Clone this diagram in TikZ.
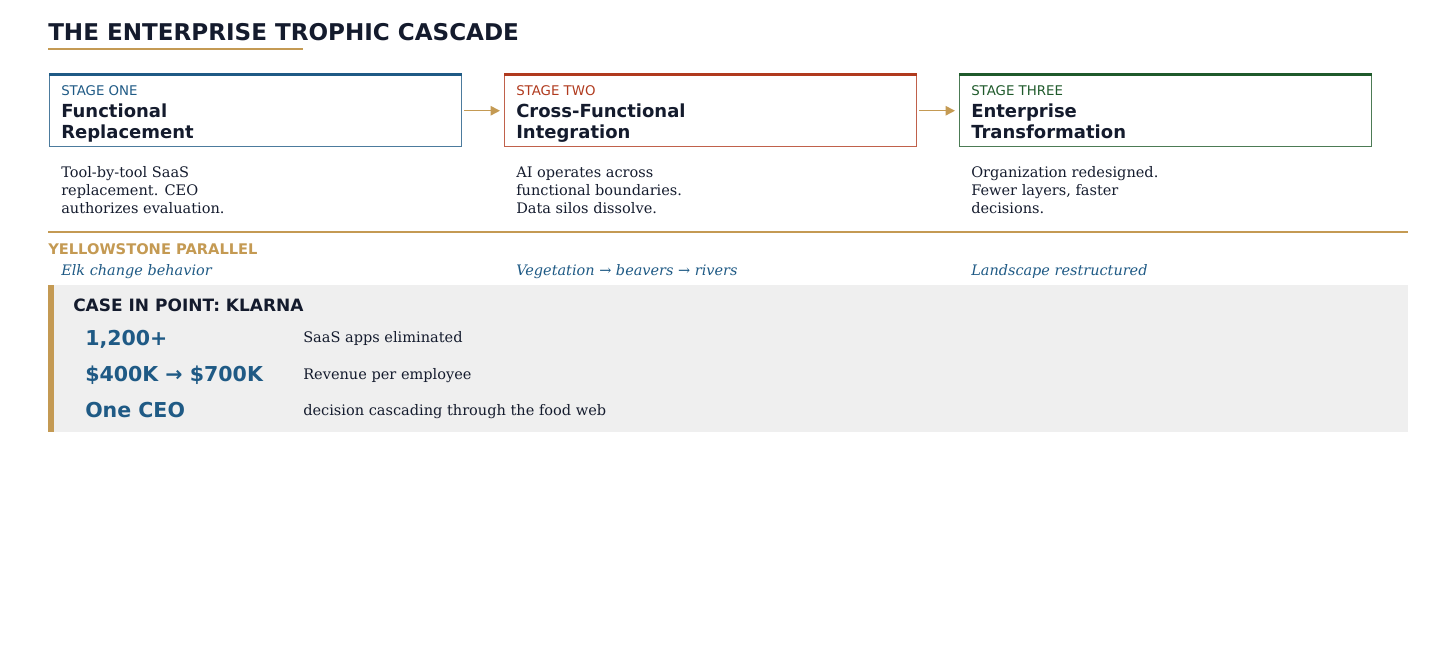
\documentclass[tikz,border=0pt]{standalone}
\usepackage{fontspec}
\setmainfont{DejaVu Serif}
\setsansfont{DejaVu Sans}
\usetikzlibrary{arrows.meta,positioning}
\definecolor{ink}{HTML}{141B2D}
\definecolor{gold}{HTML}{C49A53}
\definecolor{oneblue}{HTML}{1F5A85}
\definecolor{twored}{HTML}{B03A1E}
\definecolor{threegreen}{HTML}{1F5A2B}
\definecolor{panel}{HTML}{EFEFEF}
\tikzset{
  stagebox/.style={draw=#1, draw opacity=0.8, line width=1.1pt, anchor=north west, inner sep=0pt,
    minimum width=309pt, minimum height=54pt},
  stagelabel/.style={anchor=base west, inner sep=0pt, text=#1,
    font=\sffamily\fontsize{10}{12}\selectfont},
  stagetitle/.style={anchor=base west, inner sep=0pt, text=ink,
    font=\sffamily\bfseries\fontsize{13.5}{16}\selectfont},
  desc/.style={anchor=north west, inner sep=0pt, align=left, text=ink,
    font=\fontsize{10.9}{13.5}\selectfont},
  parallel/.style={anchor=base west, inner sep=0pt, text=oneblue,
    font=\itshape\fontsize{10.85}{13}\selectfont},
  bignum/.style={anchor=base west, inner sep=0pt, text=oneblue,
    font=\sffamily\bfseries\fontsize{15.4}{19}\selectfont},
  rowtext/.style={anchor=base west, inner sep=0pt, text=ink,
    font=\fontsize{10.9}{13}\selectfont},
  flow/.style={draw=gold, line width=1.1pt, -{Triangle[length=7pt,width=7pt]}}
}
\begin{document}
\begin{tikzpicture}[x=0.75pt,y=-0.75pt]
\useasboundingbox (0,0) rectangle (1456,668);

% title
\node[anchor=base west, inner sep=0pt, text=ink, font=\sffamily\bfseries\fontsize{17.3}{21}\selectfont]
  (title) at (48,40) {THE ENTERPRISE TROPHIC CASCADE};
\draw[gold, line width=1.5pt] (48,49) -- (303,49);

% stages
\node[stagebox=oneblue] (s1) at (49,74) {};
\node[stagebox=twored] (s2) at (504,74) {};
\node[stagebox=threegreen] (s3) at (959,74) {};
\draw[oneblue, line width=2.8pt] ([yshift=-0.4pt]s1.north west) -- ([yshift=-0.4pt]s1.north east);
\draw[twored, line width=2.8pt] ([yshift=-0.4pt]s2.north west) -- ([yshift=-0.4pt]s2.north east);
\draw[threegreen, line width=2.8pt] ([yshift=-0.4pt]s3.north west) -- ([yshift=-0.4pt]s3.north east);

\node[stagelabel=oneblue] (s1lab) at (61,95) {STAGE ONE};
\node[stagetitle] (s1t1) at (61,117) {Functional};
\node[stagetitle] (s1t2) at (61,138) {Replacement};
\node[stagelabel=twored] (s2lab) at (516,95) {STAGE TWO};
\node[stagetitle] (s2t1) at (516,117) {Cross-Functional};
\node[stagetitle] (s2t2) at (516,138) {Integration};
\node[stagelabel=threegreen] (s3lab) at (971,95) {STAGE THREE};
\node[stagetitle] (s3t1) at (971,117) {Enterprise};
\node[stagetitle] (s3t2) at (971,138) {Transformation};

\draw[flow] ([xshift=1.5pt]s1.east) -- ([xshift=-3pt]s2.west);
\draw[flow] ([xshift=1.5pt]s2.east) -- ([xshift=-3pt]s3.west);

\node[desc] (d1) at (61,166.5) {Tool-by-tool SaaS\\replacement. CEO\\authorizes evaluation.};
\node[desc] (d2) at (516,166.5) {AI operates across\\functional boundaries.\\Data silos dissolve.};
\node[desc] (d3) at (971,166.5) {Organization redesigned.\\Fewer layers, faster\\decisions.};

% yellowstone
\draw[gold, line width=1.1pt] (48,232) -- (1408,232);
\node[anchor=base west, inner sep=0pt, text=gold, font=\sffamily\bfseries\fontsize{11}{13}\selectfont]
  (ys) at (48,254) {YELLOWSTONE PARALLEL};
\node[parallel] (p1) at (61,275) {Elk change behavior};
\node[parallel] (p2) at (516,275) {Vegetation → beavers → rivers};
\node[parallel] (p3) at (971,275) {Landscape restructured};

% klarna
\fill[panel] (48,285) rectangle (1408,432);
\fill[gold] (48,285) rectangle (54,432);
\node[anchor=base west, inner sep=0pt, text=ink, font=\sffamily\bfseries\fontsize{12.75}{15}\selectfont]
  (case) at (73,311) {CASE IN POINT: KLARNA};
\node[bignum] (n1) at (85,345) {1,200+};
\node[bignum] (n2) at (85,381.5) {\$400K → \$700K};
\node[bignum] (n3) at (85,417) {One CEO};
\node[rowtext] (r1) at (303,342) {SaaS apps eliminated};
\node[rowtext] (r2) at (303,379) {Revenue per employee};
\node[rowtext] (r3) at (303,415) {decision cascading through the food web};
\end{tikzpicture}
\end{document}
